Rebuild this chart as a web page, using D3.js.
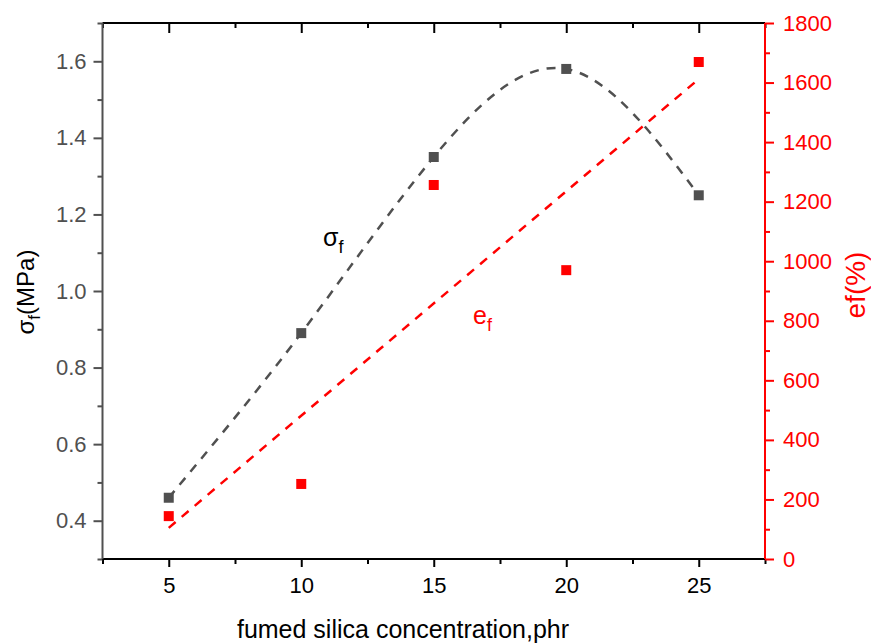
<!DOCTYPE html>
<html>
<head>
<meta charset="utf-8">
<script src="https://cdn.jsdelivr.net/npm/d3@7"></script>
<style>
  body { margin: 0; background: #fff; }
  svg { font-family: "Liberation Sans", Arial, sans-serif; }
</style>
</head>
<body>
<div id="chart"></div>
<script>
    const width = 871
    const height = 644
    const margin = {top: 23, right: 106, bottom: 85, left: 102.5}

    // data
    const silica = [5, 10, 15, 20, 25]
    const strength = [0.46, 0.89, 1.35, 1.58, 1.25]
    const elongation = [144, 252, 1256, 970, 1669]
    const xTicks = [5, 10, 15, 20, 25]
    const leftTicks = [0.4, 0.6, 0.8, 1.0, 1.2, 1.4, 1.6]
    const rightTicks = [0, 200, 400, 600, 800, 1000, 1200, 1400, 1600, 1800]

    const grey = '#505050'
    const red = '#ff0000'

    const x = d3.scaleLinear().domain([2.5, 27.5]).range([margin.left, width - margin.right])
    const yL = d3.scaleLinear().domain([0.3, 1.7]).range([height - margin.bottom, margin.top])
    const yR = d3.scaleLinear().domain([0, 1800]).range([height - margin.bottom, margin.top])

    const svg = d3.select('#chart').append('svg')
      .attr('width', width)
      .attr('height', height)

    const bottom = height - margin.bottom
    const right = width - margin.right

    // minor ticks halfway between the labelled ones
    const xMinor = d3.range(2.5, 27.6, 5)
    const lMinor = d3.range(0.3, 1.71, 0.2).map(d => +d.toFixed(1))
    const rMinor = d3.range(100, 1800, 200)

    // bottom axis
    const gx = svg.append('g')
      .attr('transform', `translate(0,${bottom})`)
      .call(d3.axisBottom(x).tickValues(xTicks).tickSize(8).tickPadding(10).tickFormat(d3.format('d')))
    gx.select('.domain').remove()
    gx.selectAll('text').style('font-size', '22px').attr('fill', '#000')
    gx.selectAll('line').attr('stroke', '#000').attr('stroke-width', 2)
    svg.append('g')
      .attr('transform', `translate(0,${bottom})`)
      .call(d3.axisBottom(x).tickValues(xMinor).tickSize(5).tickFormat(''))
      .call(g => g.select('.domain').remove())
      .selectAll('line').attr('stroke', '#000').attr('stroke-width', 2)

    // top axis, ticks pointing in
    svg.append('g')
      .attr('transform', `translate(0,${margin.top})`)
      .call(d3.axisBottom(x).tickValues(xTicks).tickSize(10).tickFormat(''))
      .call(g => g.select('.domain').remove())
      .selectAll('line').attr('stroke', '#000').attr('stroke-width', 2)
    svg.append('g')
      .attr('transform', `translate(0,${margin.top})`)
      .call(d3.axisBottom(x).tickValues(xMinor).tickSize(5).tickFormat(''))
      .call(g => g.select('.domain').remove())
      .selectAll('line').attr('stroke', '#000').attr('stroke-width', 2)

    // left axis
    const gl = svg.append('g')
      .attr('transform', `translate(${margin.left},0)`)
      .call(d3.axisLeft(yL).tickValues(leftTicks).tickSize(9).tickPadding(7).tickFormat(d3.format('.1f')))
    gl.select('.domain').remove()
    gl.selectAll('text').style('font-size', '22px').attr('fill', grey)
    gl.selectAll('line').attr('stroke', grey).attr('stroke-width', 2)
    svg.append('g')
      .attr('transform', `translate(${margin.left},0)`)
      .call(d3.axisLeft(yL).tickValues(lMinor).tickSize(5).tickFormat(''))
      .call(g => g.select('.domain').remove())
      .selectAll('line').attr('stroke', grey).attr('stroke-width', 2)

    // right axis
    const gr = svg.append('g')
      .attr('transform', `translate(${right},0)`)
      .call(d3.axisRight(yR).tickValues(rightTicks).tickSize(9).tickPadding(9).tickFormat(d3.format('d')))
    gr.select('.domain').remove()
    gr.selectAll('text').style('font-size', '22px').attr('fill', red)
    gr.selectAll('line').attr('stroke', red).attr('stroke-width', 2)
    svg.append('g')
      .attr('transform', `translate(${right},0)`)
      .call(d3.axisRight(yR).tickValues(rMinor).tickSize(5).tickFormat(''))
      .call(g => g.select('.domain').remove())
      .selectAll('line').attr('stroke', red).attr('stroke-width', 2)

    // frame lines
    svg.append('line').attr('x1', margin.left).attr('x2', right).attr('y1', margin.top).attr('y2', margin.top)
      .attr('stroke', '#000').attr('stroke-width', 2)
    svg.append('line').attr('x1', margin.left).attr('x2', right).attr('y1', bottom).attr('y2', bottom)
      .attr('stroke', '#000').attr('stroke-width', 2)
    svg.append('line').attr('x1', margin.left).attr('x2', margin.left).attr('y1', margin.top).attr('y2', bottom)
      .attr('stroke', grey).attr('stroke-width', 2)
    svg.append('line').attr('x1', right).attr('x2', right).attr('y1', margin.top).attr('y2', bottom)
      .attr('stroke', red).attr('stroke-width', 2)

    // smooth curve through the strength points
    const pts = silica.map((s, i) => [s, strength[i]])
    svg.append('path')
      .datum(pts)
      .attr('fill', 'none')
      .attr('stroke', grey)
      .attr('stroke-width', 2.5)
      .attr('stroke-dasharray', '9,8')
      .attr('d', d3.line().x(d => x(d[0])).y(d => yL(d[1])).curve(d3.curveNatural))

    // least squares line for elongation
    const mx = d3.mean(silica)
    const my = d3.mean(elongation)
    const slope = d3.sum(silica, (s, i) => (s - mx) * (elongation[i] - my)) / d3.sum(silica, s => (s - mx) ** 2)
    const fit = s => my + slope * (s - mx)
    const ends = d3.extent(silica)
    svg.append('path')
      .datum(ends)
      .attr('fill', 'none')
      .attr('stroke', red)
      .attr('stroke-width', 2.5)
      .attr('stroke-dasharray', '9,8')
      .attr('d', d3.line().x(d => x(d)).y(d => yR(fit(d))))

    const sq = 10
    svg.append('g').selectAll('rect')
      .data(silica).enter().append('rect')
      .attr('x', d => x(d) - sq / 2)
      .attr('y', (d, i) => yL(strength[i]) - sq / 2)
      .attr('width', sq).attr('height', sq)
      .attr('fill', grey)
    svg.append('g').selectAll('rect')
      .data(silica).enter().append('rect')
      .attr('x', d => x(d) - sq / 2)
      .attr('y', (d, i) => yR(elongation[i]) - sq / 2)
      .attr('width', sq).attr('height', sq)
      .attr('fill', red)

    // in-plot labels
    const sLab = svg.append('text').attr('x', 323).attr('y', 246).style('font-size', '25px').attr('fill', '#000')
    sLab.append('tspan').text('σ')
    sLab.append('tspan').attr('dy', 7).style('font-size', '18px').text('f')
    const eLab = svg.append('text').attr('x', 473).attr('y', 324).style('font-size', '25px').attr('fill', red)
    eLab.append('tspan').text('e')
    eLab.append('tspan').attr('dy', 7).style('font-size', '18px').text('f')

    // axis titles
    svg.append('text')
      .attr('x', 403).attr('y', 638)
      .attr('text-anchor', 'middle')
      .style('font-size', '25px')
      .attr('fill', '#000')
      .text('fumed silica concentration,phr')

    const lt = svg.append('text')
      .attr('transform', 'translate(34,292) rotate(-90)')
      .attr('text-anchor', 'middle')
      .style('font-size', '24px')
      .attr('fill', '#000')
    lt.append('tspan').text('σ')
    lt.append('tspan').attr('dy', 6).style('font-size', '17px').text('f')
    lt.append('tspan').attr('dy', -6).text('(MPa)')

    svg.append('text')
      .attr('transform', 'translate(865,285) rotate(-90)')
      .attr('text-anchor', 'middle')
      .style('font-size', '28px')
      .attr('fill', red)
      .text('ef(%)')
</script>
</body>
</html>
